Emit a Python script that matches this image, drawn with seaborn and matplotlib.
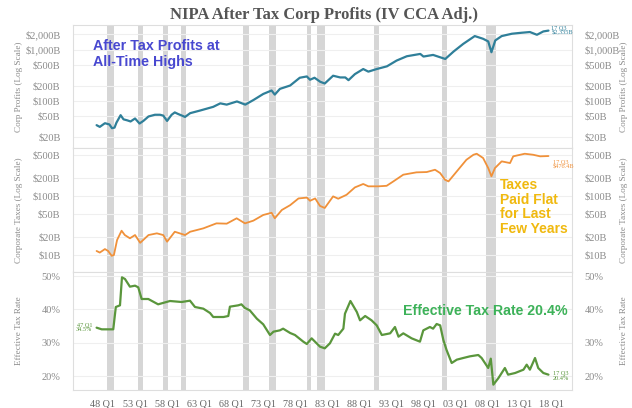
import matplotlib
matplotlib.use("Agg")
import matplotlib.pyplot as plt
import pandas as pd
import seaborn as sns
from matplotlib.ticker import FixedLocator, FixedFormatter, NullLocator

sns.set_theme(style="white")
plt.rcParams['font.family'] = ['Liberation Serif', 'DejaVu Serif']

# After-tax corporate profits, $B (quarter as fractional year)
profit_years = [1947.0, 1947.5, 1948.3, 1949.0, 1949.4, 1949.8, 1950.1, 1950.75, 1951.2, 1951.8,
                1952.3, 1953.0, 1953.7, 1954.3, 1955.1, 1956.1, 1956.9, 1957.4, 1958.0, 1958.7,
                1959.2, 1959.7, 1960.8, 1961.6, 1963.1, 1965.2, 1966.3, 1967.3, 1968.9, 1970.2,
                1971.5, 1973.0, 1974.3, 1974.8, 1975.6, 1977.2, 1978.7, 1979.8, 1980.3, 1981.0,
                1981.9, 1982.6, 1983.9, 1985.0, 1985.8, 1986.3, 1987.3, 1988.6, 1989.4, 1990.7,
                1992.3, 1993.8, 1995.4, 1997.5, 1998.0, 1999.5, 2001.4, 2002.7, 2004.2, 2006.0,
                2007.3, 2008.1, 2008.6, 2009.2, 2010.2, 2011.8, 2013.3, 2014.6, 2015.7, 2016.7,
                2017.5]
profit_vals = [33.9, 31.4, 37, 35, 29.6, 30.4, 38, 53, 44, 42,
               40, 45.7, 36.5, 41, 50, 54, 54, 52, 41, 54,
               60, 56, 49, 58, 65, 77, 90, 85, 98, 85,
               105, 137, 160, 133, 172, 200, 283, 300, 259, 283,
               236, 219, 310, 287, 287, 254, 333, 418, 372, 418,
               472, 610, 741, 822, 731, 786, 656, 916, 1288, 1828,
               1618, 1439, 887, 1503, 1828, 2030, 2120, 2190, 1937, 2250,
               2335]

# Corporate taxes, $B
tax_years = [1947.0, 1947.5, 1948.3, 1948.8, 1949.35, 1949.7, 1950.2, 1950.9, 1951.4, 1952.2,
             1953.0, 1953.8, 1955.1, 1956.4, 1957.4, 1958.0, 1959.2, 1960.8, 1961.6, 1963.65,
             1965.7, 1967.3, 1968.85, 1970.15, 1971.45, 1973.0, 1974.3, 1974.8, 1975.9, 1977.2,
             1978.5, 1979.8, 1980.3, 1981.1, 1981.85, 1982.6, 1983.9, 1984.7, 1986.0, 1987.3,
             1988.6, 1989.4, 1990.95, 1992.25, 1993.3, 1994.85, 1996.9, 1998.5, 1999.8, 2000.6,
             2001.35, 2001.9, 2003.2, 2004.7, 2005.8, 2006.3, 2007.3, 2008.1, 2008.6, 2009.15,
             2010.2, 2011.5, 2012.0, 2013.8, 2015.1, 2016.2, 2017.5]
tax_vals = [11.7, 11.0, 12.6, 11.7, 9.7, 10.0, 18, 25.8, 21.8, 19.2,
            21.8, 16.1, 21.8, 23.3, 21.8, 16.8, 24.8, 21.8, 24.8, 28.3,
            34.4, 34, 41.9, 34.4, 38.2, 47.7, 52, 41.9, 58, 70,
            91, 94, 83, 91, 68, 62.7, 98.6, 90, 105, 140,
            160, 146, 146, 149, 177, 230, 252, 255, 279, 245,
            189, 177, 262, 412, 501, 521, 441, 298, 216, 298,
            387, 362, 471, 521, 501, 471, 476.4]

# Effective tax rate, %
rate_years = [1947.0, 1947.8, 1949.6, 1950.0, 1950.65, 1950.96, 1951.43, 1952.2, 1953.0, 1953.5,
              1954.03, 1955.07, 1956.6, 1958.45, 1960.27, 1961.57, 1962.35, 1963.65, 1964.7, 1965.2,
              1966.8, 1967.55, 1967.8, 1969.1, 1969.6, 1970.15, 1970.9, 1972.0, 1973.0, 1974.05,
              1974.6, 1975.6, 1976.1, 1977.2, 1977.95, 1979.25, 1979.8, 1980.55, 1981.85, 1982.6,
              1983.4, 1984.2, 1984.7, 1985.5, 1985.75, 1986.6, 1987.6, 1988.1, 1988.9, 1989.9,
              1990.7, 1991.5, 1992.8, 1993.55, 1994.1, 1994.85, 1996.15, 1997.45, 1997.97, 1999.0,
              1999.5, 2000.05, 2000.6, 2001.1, 2001.6, 2002.4, 2003.2, 2004.2, 2005.25, 2006.55,
              2007.07, 2008.1, 2008.5, 2008.9, 2009.7, 2010.7, 2011.2, 2012.3, 2013.6, 2014.1,
              2014.6, 2015.4, 2015.9, 2016.7, 2017.5]
rate_vals = [34.5, 34.0, 34.0, 40.7, 41.2, 49.6, 49.1, 46.8, 47.1, 46.6,
             43.1, 43.1, 41.5, 42.5, 42.2, 42.6, 40.7, 40.2, 38.9, 37.7,
             37.7, 38.0, 40.8, 41.2, 41.5, 40.4, 39.7, 37.2, 35.5, 32.3,
             33.3, 33.7, 34.2, 32.9, 32.3, 30.3, 29.6, 31.3, 28.8, 28.3,
             29.8, 32.7, 32.3, 34.2, 38.7, 42.5, 39.2, 36.7, 38.0, 36.7,
             35.2, 32.3, 32.8, 34.7, 31.8, 32.8, 31.3, 30.3, 33.7, 34.7,
             34.2, 35.6, 35.2, 30.8, 27.8, 23.9, 24.9, 25.4, 25.9, 26.3,
             25.4, 22.4, 25.2, 17.4, 19.4, 22.4, 20.4, 20.9, 21.9, 23.4,
             21.9, 25.4, 22.4, 20.9, 20.4]

# Recession periods (start, end)
recessions = [(1948.6, 1949.7), (1953.5, 1954.2), (1957.4, 1958.1), (1960.2, 1960.95),
              (1969.8, 1970.8), (1973.9, 1975.0), (1979.8, 1980.45), (1981.4, 1982.6),
              (1990.3, 1991.05), (2000.9, 2001.7), (2007.75, 2009.3)]

x_tick_years = [1948, 1953, 1958, 1963, 1968, 1973, 1978, 1983, 1988, 1993, 1998, 2003, 2008, 2013, 2018]
x_tick_labels = ["48 Q1", "53 Q1", "58 Q1", "63 Q1", "68 Q1", "73 Q1", "78 Q1", "83 Q1",
                 "88 Q1", "93 Q1", "98 Q1", "03 Q1", "08 Q1", "13 Q1", "18 Q1"]

profit_ticks = [20, 50, 100, 200, 500, 1000, 2000]
profit_tick_labels = ["$20B", "$50B", "$100B", "$200B", "$500B", "$1,000B", "$2,000B"]
tax_ticks = [10, 20, 50, 100, 200, 500]
tax_tick_labels = ["$10B", "$20B", "$50B", "$100B", "$200B", "$500B"]
rate_ticks = [20, 30, 40, 50]
rate_tick_labels = ["20%", "30%", "40%", "50%"]

profits = pd.DataFrame({"year": profit_years, "value": profit_vals})
taxes = pd.DataFrame({"year": tax_years, "value": tax_vals})
rates = pd.DataFrame({"year": rate_years, "value": rate_vals})

TEAL = "#2f7f99"
ORANGE = "#f0913a"
GREEN = "#5a963c"
TICK_COLOR = "#8a8a8a"
EDGE = "#dedede"

fig = plt.figure(figsize=(6.32, 4.08), dpi=100)
W, H = 632, 408
left, right = 73, 572


def panel(top_px, bottom_px):
    return fig.add_axes([left / W, 1 - bottom_px / H, (right - left) / W, (bottom_px - top_px) / H])


ax1 = panel(25, 148)
ax2 = panel(148, 272)
ax3 = panel(272, 390)

sns.lineplot(data=profits, x="year", y="value", ax=ax1, color=TEAL, lw=1.6, sort=False)
sns.lineplot(data=taxes, x="year", y="value", ax=ax2, color=ORANGE, lw=1.3, sort=False)
sns.lineplot(data=rates, x="year", y="value", ax=ax3, color=GREEN, lw=1.6, sort=False)

ax1.set_yscale("log")
ax2.set_yscale("log")
ax1.set_ylim(12.2, 3000)
ax2.set_ylim(5.15, 652)
ax3.set_ylim(15.8, 51.2)

specs = [(ax1, profit_ticks, profit_tick_labels, "Corp Profits (Log Scale)"),
         (ax2, tax_ticks, tax_tick_labels, "Corporate Taxes (Log Scale)"),
         (ax3, rate_ticks, rate_tick_labels, "Effective Tax Rate")]

for ax, ticks, labels, name in specs:
    ax.set_xlim(1943.32, 2021.17)
    for s, e in recessions:
        ax.axvspan(s, e, color="#d6d6d6", lw=0, zorder=0)
    ax.yaxis.set_major_locator(FixedLocator(ticks))
    ax.yaxis.set_major_formatter(FixedFormatter(labels))
    ax.yaxis.set_minor_locator(NullLocator())
    ax.grid(axis="y", color="#efefef", lw=0.8)
    ax.set_axisbelow(True)
    ax.tick_params(axis="y", left=False, right=False, labelleft=True, labelright=True,
                   labelsize=7.5, labelcolor=TICK_COLOR, pad=3)
    ax.set_ylabel("")
    for sp in ax.spines.values():
        sp.set_color(EDGE)
        sp.set_linewidth(0.8)
    pos = ax.get_position()
    yc = (pos.y0 + pos.y1) / 2
    fig.text(19 / W, yc, name, rotation=90, ha="center", va="center", fontsize=6.6, color=TICK_COLOR)
    fig.text(624 / W, yc, name, rotation=90, ha="center", va="center", fontsize=6.6, color=TICK_COLOR)

for ax in (ax1, ax2):
    ax.set_xticks([])
    ax.set_xlabel("")
ax3.set_xticks(x_tick_years)
ax3.set_xticklabels(x_tick_labels)
ax3.tick_params(axis="x", bottom=False, labelsize=7.3, labelcolor="#666666", pad=0.5)
ax3.set_xlabel("")

# End-point labels
ax1.annotate("17 Q3\n$2,335B", (profit_years[-1], profit_vals[-1]), xytext=(2, 0),
             textcoords="offset points", fontsize=4.5, color=TEAL, ha="left", va="center", linespacing=0.9)
ax2.annotate("17 Q3\n$476.4B", (tax_years[-1], tax_vals[-1]), xytext=(3, -6),
             textcoords="offset points", fontsize=4.5, color=ORANGE, ha="left", va="center", linespacing=0.9)
ax3.annotate("17 Q3\n20.4%", (rate_years[-1], rate_vals[-1]), xytext=(3, -1),
             textcoords="offset points", fontsize=4.5, color=GREEN, ha="left", va="center", linespacing=0.9)
ax3.annotate("47 Q1\n34.5%", (rate_years[0], rate_vals[0]), xytext=(-3, 0),
             textcoords="offset points", fontsize=4.5, color=GREEN, ha="right", va="center", linespacing=0.9)

# Callouts
sans = ["Liberation Sans", "DejaVu Sans"]
fig.text(93 / W, 1 - 54 / H, "After Tax Profits at\nAll-Time Highs", family=sans, fontweight="bold",
         fontsize=10.3, color="#4848d0", ha="left", va="center", linespacing=1.15)
fig.text(500 / W, 1 - 207 / H, "Taxes\nPaid Flat\nfor Last\nFew Years", family=sans, fontweight="bold",
         fontsize=10, color="#f0b90f", ha="left", va="center", linespacing=1.05)
fig.text(568 / W, 1 - 311 / H, "Effective Tax Rate 20.4%", family=sans, fontweight="bold",
         fontsize=10.2, color="#3db259", ha="right", va="center")

fig.text(324 / W, 1 - 15 / H, "NIPA After Tax Corp Profits (IV CCA Adj.)", fontweight="bold",
         fontsize=12, color="#555555", ha="center", va="center")

fig.savefig("out.png", dpi=100)
